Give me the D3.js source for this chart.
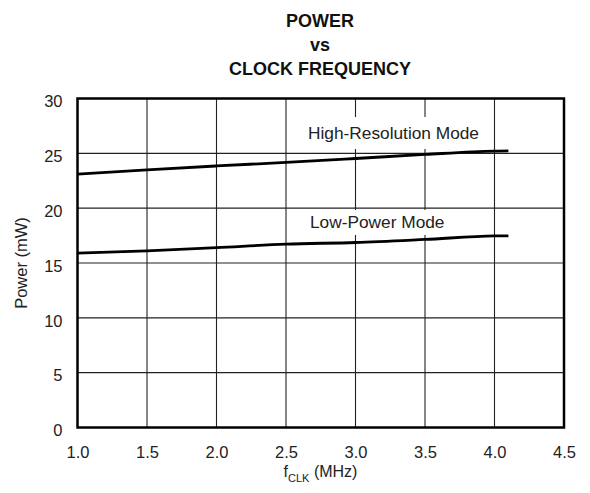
<!DOCTYPE html>
<html><head><meta charset="utf-8">
<script src="https://cdn.jsdelivr.net/npm/d3@7"></script>
<style>
body{margin:0;background:#fff;}
svg{display:block;font-family:"Liberation Sans",Arial,Helvetica,sans-serif;}
</style></head>
<body><svg id="chart" width="590" height="493"></svg>
<script>
const freq = [1.0, 1.5, 2.0, 2.5, 3.0, 3.5, 4.0, 4.1];
const highRes = [23.1, 23.5, 23.85, 24.17, 24.53, 24.9, 25.2, 25.22];
const lowPower = [15.9, 16.1, 16.4, 16.72, 16.87, 17.15, 17.47, 17.48];
const xTicks = [1.0, 1.5, 2.0, 2.5, 3.0, 3.5, 4.0, 4.5];
const yTicks = [0, 5, 10, 15, 20, 25, 30];
const seriesLabels = ["High-Resolution Mode", "Low-Power Mode"];
const titleLines = ["POWER", "vs", "CLOCK FREQUENCY"];

const L = 77.5, R = 564, T = 98.5, B = 427.5;
const svg = d3.select("#chart");
const x = d3.scaleLinear().domain([1.0, 4.5]).range([L, R]);
const y = d3.scaleLinear().domain([0, 30]).range([B, T]);

// title
svg.append("g").selectAll("text").data(titleLines).join("text")
  .attr("x", 320).attr("y", (d, i) => 26.5 + i * 24.2)
  .attr("text-anchor", "middle").attr("font-weight", "bold").attr("font-size", 18)
  .attr("fill", "#111").text(d => d);

// grid
const grid = svg.append("g").attr("stroke", "#222").attr("stroke-width", 1.1);
grid.selectAll("line.v").data(xTicks.slice(1, -1)).join("line")
  .attr("x1", d => x(d)).attr("x2", d => x(d)).attr("y1", T).attr("y2", B);
grid.selectAll("line.h").data(yTicks.slice(1, -1)).join("line")
  .attr("x1", L).attr("x2", R).attr("y1", d => y(d)).attr("y2", d => y(d));

// axes (tick labels only)
const xAxis = svg.append("g").attr("transform", `translate(0,${B})`)
  .call(d3.axisBottom(x).tickValues(xTicks).tickFormat(d3.format(".1f")).tickSize(0).tickPadding(0));
xAxis.select(".domain").remove();
xAxis.selectAll("text").attr("y", 30).attr("dy", 0).attr("font-size", 16.5).attr("fill", "#222")
  .attr("font-family", "Liberation Sans, Arial, sans-serif");

const yAxis = svg.append("g").attr("transform", `translate(${L},0)`)
  .call(d3.axisLeft(y).tickValues(yTicks).tickFormat(d3.format("d")).tickSize(0).tickPadding(0));
yAxis.select(".domain").remove();
yAxis.selectAll("text").attr("x", -15).attr("dy", 0).attr("y", 8.3).attr("font-size", 16.5).attr("fill", "#222")
  .attr("font-family", "Liberation Sans, Arial, sans-serif");

// label boxes + labels
const labelPos = [{x: 308, y: 139, w: 182, top: 117, h: 32}, {x: 310, y: 228.3, w: 146, top: 210, h: 25}];
const lab = svg.append("g");
lab.selectAll("rect").data(labelPos).join("rect")
  .attr("x", d => d.x - 3).attr("y", d => d.top).attr("width", d => d.w).attr("height", d => d.h)
  .attr("fill", "#fff");
lab.selectAll("text").data(seriesLabels).join("text")
  .attr("x", (d, i) => labelPos[i].x).attr("y", (d, i) => labelPos[i].y)
  .attr("font-size", 17.3).attr("fill", "#222").text(d => d);

// frame
svg.append("rect").attr("x", L).attr("y", T).attr("width", R - L).attr("height", B - T)
  .attr("fill", "none").attr("stroke", "#000").attr("stroke-width", 2.5);

// series
const line = d3.line().x((d, i) => x(freq[i])).y(d => y(d)).curve(d3.curveMonotoneX);
svg.append("g").selectAll("path").data([highRes, lowPower]).join("path")
  .attr("d", line).attr("fill", "none").attr("stroke", "#000").attr("stroke-width", 2.8);

// axis titles
const xl = svg.append("text").attr("x", 320.5).attr("y", 477).attr("text-anchor", "middle")
  .attr("font-size", 16).attr("fill", "#222");
xl.append("tspan").text("f");
xl.append("tspan").attr("font-size", 11).attr("dy", 4.5).text("CLK");
xl.append("tspan").attr("dy", -4.5).text(" (MHz)");

svg.append("text").attr("transform", `translate(27,263) rotate(-90)`)
  .attr("text-anchor", "middle").attr("font-size", 16.5).attr("fill", "#222").text("Power (mW)");
</script></body></html>
